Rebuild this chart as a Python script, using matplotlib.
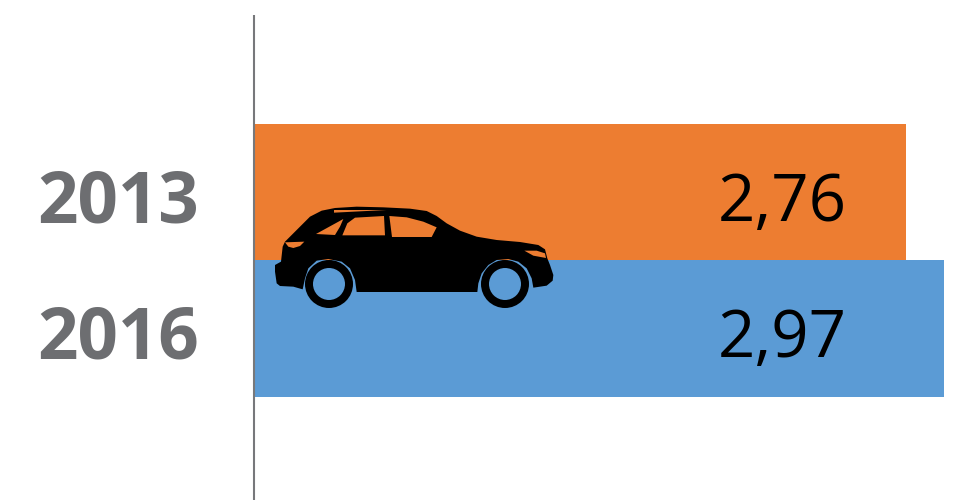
import matplotlib
matplotlib.use('Agg')
import matplotlib.pyplot as plt
from matplotlib.patches import Polygon, Circle

years = ['2013', '2016']
values = [2.76, 2.97]
value_labels = ['2,76', '2,97']
bar_colors = ['#ED7D31', '#5B9BD5']

# the bars do not start at zero in the original
base = -0.835

plt.rcParams['font.family'] = ['Open Sans', 'DejaVu Sans']

fig = plt.figure(figsize=(9.57, 5), dpi=100)

# main axes, spans x 255..957 and the full height in pixels
ax = fig.add_axes([255 / 957, 0, 702 / 957, 1])
ax.set_xlim(base, base + 702 / 181.0)
ax.set_ylim(2.256, -1.407)

ax.barh([0, 1], [v - base for v in values], left=base, height=1.0, color=bar_colors)

ax.set_yticks([])
ax.set_xticks([])
for name in ['top', 'right', 'bottom', 'left']:
    ax.spines[name].set_visible(False)

# year labels and value labels
for i, year in enumerate(years):
    ax.annotate(year, xy=(0, i), xycoords=ax.get_yaxis_transform(), xytext=(-137 * 0.72, -8),
                textcoords='offset points', ha='center', va='center',
                fontsize=51, fontweight='bold', color='#6D6E71')
    ax.text(2.077, i + 0.085, value_labels[i], ha='center', va='center', fontsize=47, color='black')

# overlay in pixel coordinates for the axis line and the car icon
ov = fig.add_axes([0, 0, 1, 1])
ov.set_xlim(0, 957)
ov.set_ylim(500, 0)
ov.axis('off')
ov.plot([254, 254], [15, 500], color='#77787B', lw=1.5, solid_capstyle='butt')


def to_px(points):
    # outline was traced on a 3x crop starting at (260, 190)
    return [(260 + x / 3, 190 + y / 3) for x, y in points]


body = [(75, 155), (110, 120), (150, 80), (185, 62), (225, 54), (290, 50), (370, 52), (450, 56),
        (500, 63), (530, 78), (560, 100), (600, 122), (650, 140), (710, 150), (780, 156),
        (835, 165), (855, 178), (862, 205), (870, 225), (880, 255), (878, 272), (860, 287),
        (820, 293), (815, 265), (800, 235), (775, 215), (745, 207), (710, 210), (685, 225),
        (665, 250), (655, 280), (652, 306), (290, 306), (285, 270), (270, 235), (245, 215),
        (205, 207), (170, 212), (145, 235), (135, 265), (128, 298), (100, 290), (60, 288),
        (50, 280), (45, 245), (45, 225), (63, 215), (68, 170)]
ov.add_patch(Polygon(to_px(body), closed=True, fc='black', ec='none'))

orange_parts = [
    [(168, 132), (250, 87), (240, 110), (225, 135)],
    [(247, 136), (262, 100), (285, 83), (372, 78), (375, 136)],
    [(388, 78), (440, 82), (490, 95), (530, 112), (515, 141), (396, 141)],
    [(222, 60), (380, 60), (222, 68)],
    [(75, 157), (133, 155), (120, 168), (100, 174), (85, 170)],
    [(793, 182), (830, 182), (855, 190), (858, 204), (820, 197)],
]
for part in orange_parts:
    ov.add_patch(Polygon(to_px(part), closed=True, fc=bar_colors[0], ec='none'))

for cx, cy in to_px([(207, 282), (735, 282)]):
    ov.add_patch(Circle((cx, cy), 24, fc='black', ec='none'))
    ov.add_patch(Circle((cx, cy), 16, fc=bar_colors[1], ec='none'))

fig.savefig('out.png', dpi=100)
